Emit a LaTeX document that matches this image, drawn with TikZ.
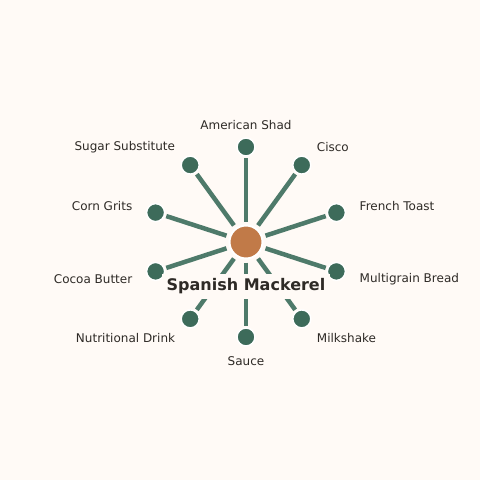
\documentclass[tikz,border=0pt]{standalone}
\usepackage{fontspec}
\setmainfont{DejaVu Sans}
\definecolor{paper}{HTML}{FFFAF6}
\definecolor{edgegreen}{HTML}{4E7A6A}
\definecolor{leafgreen}{HTML}{3D6B5A}
\definecolor{hubbrown}{HTML}{C17A48}
\definecolor{inkdark}{HTML}{2E2A26}
\tikzset{myedge/.style={edgegreen,line width=4.5pt,shorten <=3pt,shorten >=1.5pt}}
\tikzset{myleaf/.style={circle,fill=leafgreen,draw=white,line width=1.5pt,minimum size=18pt,inner sep=0pt}}
\tikzset{myhub/.style={circle,fill=hubbrown,draw=white,line width=2pt,minimum size=33pt,inner sep=0pt}}
\tikzset{mylabel/.style={text=inkdark,font=\fontsize{12}{14}\selectfont}}

\begin{document}
\begin{tikzpicture}[x=1pt,y=-1pt]
	\fill[paper] (0,0) rectangle (480,480);
	\useasboundingbox (0,0) rectangle (480,480);

	\node[myhub] (hub) at (246,242) {};

	\node[myleaf] (shad) at (246,147) {};
	\node[myleaf] (cisco) at (301.8,165.1) {};
	\node[myleaf] (toast) at (336.4,212.6) {};
	\node[myleaf] (bread) at (336.4,271.4) {};
	\node[myleaf] (shake) at (301.8,318.9) {};
	\node[myleaf] (sauce) at (246,337) {};
	\node[myleaf] (drink) at (190.2,318.9) {};
	\node[myleaf] (cocoa) at (155.6,271.4) {};
	\node[myleaf] (grits) at (155.6,212.6) {};
	\node[myleaf] (sugar) at (190.2,165.1) {};

	% spokes
	\draw[myedge] (hub) -- (shad);
	\draw[myedge] (hub) -- (cisco);
	\draw[myedge] (hub) -- (toast);
	\draw[myedge] (hub) -- (bread);
	\draw[myedge] (hub) -- (shake);
	\draw[myedge] (hub) -- (sauce);
	\draw[myedge] (hub) -- (drink);
	\draw[myedge] (hub) -- (cocoa);
	\draw[myedge] (hub) -- (grits);
	\draw[myedge] (hub) -- (sugar);

	\node[fill=paper,inner sep=4.5pt,text=inkdark,font=\bfseries\fontsize{16}{19}\selectfont] (title) at (246,286.5) {Spanish Mackerel};

	\node[mylabel] (shadlabel) at (246,125) {American Shad};
	\node[mylabel,anchor=west] (ciscolabel) at (313.4,147.5) {Cisco};
	\node[mylabel,anchor=west] (toastlabel) at (356.2,206.5) {French Toast};
	\node[mylabel,anchor=west] (breadlabel) at (356.2,279.5) {Multigrain Bread};
	\node[mylabel,anchor=west] (shakelabel) at (313.4,338.5) {Milkshake};
	\node[mylabel] (saucelabel) at (246,361) {Sauce};
	\node[mylabel,anchor=east] (drinklabel) at (178.6,338.5) {Nutritional Drink};
	\node[mylabel,anchor=east] (cocoalabel) at (135.8,279.5) {Cocoa Butter};
	\node[mylabel,anchor=east] (gritslabel) at (135.8,206.5) {Corn Grits};
	\node[mylabel,anchor=east] (sugarlabel) at (178.6,147.5) {Sugar Substitute};

\end{tikzpicture}
\end{document}
